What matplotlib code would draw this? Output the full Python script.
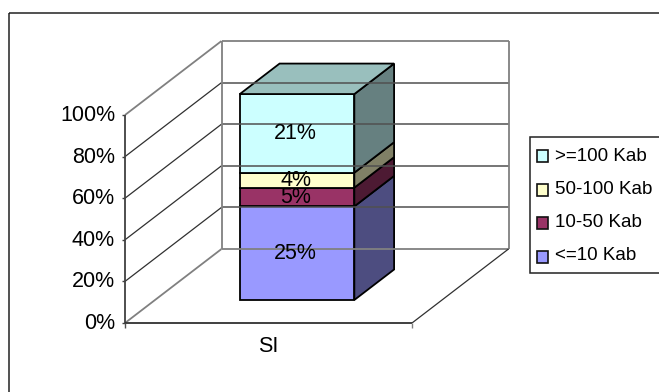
"""Stacked 3D-look column (100%) with legend, drawn in figure pixels."""
import matplotlib
matplotlib.use("Agg")
import matplotlib.pyplot as plt
import numpy as np
from matplotlib.patches import Rectangle

plt.rcParams["font.family"] = ["Liberation Sans", "DejaVu Sans"]

category = "SI"
series = ["<=10 Kab", "10-50 Kab", "50-100 Kab", ">=100 Kab"]
values = [25, 5, 4, 21]
labels = ["25%", "5%", "4%", "21%"]
front_colors = ["#9999FF", "#993366", "#FFFFCC", "#CCFFFF"]
side_colors = ["#4D4D80", "#4D1A33", "#808066", "#668080"]
top_color = "#99BFBD"
ticks = [0, 20, 40, 60, 80, 100]

# projection of the box, in pixels
X0, Y0 = 125.0, 323.0
WIDTH = 287.0
HEIGHT = 208.0
DX, DY = 96.5, -74.0


def proj(x, pct, depth=0.0):
    """x and depth as box fractions, pct as 0-100."""
    return (X0 + x * WIDTH + depth * DX, Y0 - pct / 100 * HEIGHT + depth * DY)


def line(ax, a, b, color="#808080", lw=1.3, **kw):
    ax.plot([a[0], b[0]], [a[1], b[1]], color=color, lw=lw,
            solid_capstyle="butt", **kw)


def poly(ax, pts, color):
    ax.fill(*zip(*pts), facecolor=color, edgecolor="black", lw=1.3, joinstyle="miter")


fig = plt.figure(figsize=(6.59, 3.92), dpi=100)
ax = fig.add_axes([0, 0, 1, 1])
ax.set_xlim(0, 659)
ax.set_ylim(392, 0)
ax.axis("off")

# chart area border, runs off the picture at right and bottom
ax.add_patch(Rectangle((9, 13), 700, 420, fill=False, ec="#222222", lw=1.1))

# walls and gridlines
for t in ticks:
    outer = t in (0, 100)
    col = "#808080" if outer else "#303030"
    w = 1.3 if outer else 0.9
    line(ax, proj(0, t), proj(0, t, 1), col, w)
    line(ax, proj(0, t, 1), proj(1, t, 1), "#808080" if outer else "#505050", 1.3 if outer else 1.1)
    line(ax, proj(0, t), (X0 - 3, proj(0, t)[1]), "#404040", 1.0)
    ax.text(115, proj(0, t)[1] + 0.5, f"{t}%", ha="right", va="center",
            fontsize=15.5, color="black")
line(ax, proj(0, 0, 1), proj(0, 100, 1), "#808080", 1.3)
line(ax, proj(1, 0, 1), proj(1, 100, 1), "#808080", 1.3)
line(ax, proj(0, 0), proj(0, 100), "#404040", 1.3)
line(ax, proj(0, 0), proj(1, 0), "#303030", 1.3)
line(ax, proj(1, 0), proj(1, 0, 1), "#303030", 0.9)
line(ax, proj(0, 0), (X0, Y0 + 5), "#505050", 1.0)
line(ax, proj(1, 0), (X0 + WIDTH, Y0 + 5), "#808080", 1.0)

# stacked column, a touch shorter than the wall as in the source chart
bar_x0, bar_x1 = 0.2955, 0.6945
bar_d0, bar_d1 = 0.311, 0.723
bar_full = 99.0
shares = bar_full * np.array(values) / sum(values)
bottoms = np.concatenate([[0], np.cumsum(shares)[:-1]])
for b, s, lab, fc, sc in zip(bottoms, shares, labels, front_colors, side_colors):
    t = b + s
    poly(ax, [proj(bar_x1, b, bar_d0), proj(bar_x1, t, bar_d0),
              proj(bar_x1, t, bar_d1), proj(bar_x1, b, bar_d1)], sc)
    poly(ax, [proj(bar_x0, b, bar_d0), proj(bar_x1, b, bar_d0),
              proj(bar_x1, t, bar_d0), proj(bar_x0, t, bar_d0)], fc)
    cx, cy = proj((bar_x0 + bar_x1) / 2, b + s / 2, bar_d0)
    ax.text(cx - 1.5, cy, lab, ha="center", va="center", fontsize=15.5, color="black")
poly(ax, [proj(bar_x0, bar_full, bar_d0), proj(bar_x1, bar_full, bar_d0),
          proj(bar_x1, bar_full, bar_d1), proj(bar_x0, bar_full, bar_d1)], top_color)

ax.text(268, 347, category, ha="center", va="center", fontsize=15.5, color="black")

# legend, also clipped by the picture edge
ax.add_patch(Rectangle((529.5, 137), 200, 136, fc="white", ec="#222222", lw=1.1))
for i, name in enumerate(reversed(series)):
    y = 156 + i * 33.6
    col = front_colors[len(series) - 1 - i]
    ax.add_patch(Rectangle((537, y - 6), 11, 12, fc=col, ec="#111111", lw=1.2))
    ax.text(555, 156 + i * 33, name, ha="left", va="center", fontsize=13.5, color="black")

fig.savefig("out.png", dpi=100)
plt.close(fig)
